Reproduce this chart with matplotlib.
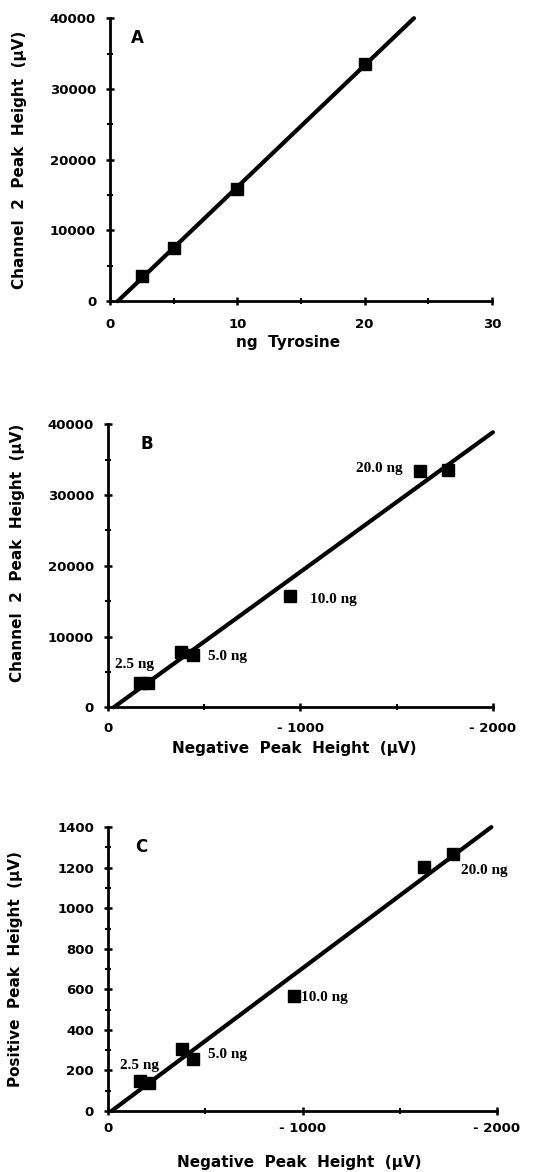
import numpy as np
import matplotlib
matplotlib.use("Agg")
import matplotlib.pyplot as plt
from matplotlib.ticker import MultipleLocator, FixedLocator

# Panel A: ng tyrosine vs channel 2 peak height
ng_tyr = [2.5, 5.0, 10.0, 20.0]
ch2_a = [3500, 7500, 15800, 33500]

# Panel B / C: negative peak height vs channel 2 / positive peak height
neg_peak = [165, 210, 380, 440, 945, 1620, 1765]
ch2_b = [3500, 3500, 7800, 7400, 15800, 33400, 33500]
neg_peak_c = [165, 210, 380, 435, 955, 1625, 1775]
pos_peak = [150, 140, 305, 255, 565, 1205, 1265]

labels = ["2.5 ng", "5.0 ng", "10.0 ng", "20.0 ng"]
lab_pos_b = [(35, 6100), (520, 7200), (1050, 15200), (1290, 33700)]
lab_pos_c = [(60, 225), (515, 280), (990, 560), (1815, 1185)]

plt.rcParams['font.family'] = ['DejaVu Sans']
plt.rcParams['font.weight'] = 'bold'

fig = plt.figure(figsize=(5.46, 11.72), dpi=100)

lab_font = dict(fontsize=11, fontweight='bold')
ann_font = dict(fontsize=11, fontweight='bold', family='Liberation Serif')


def style_axes(ax, xpad):
    for s in ['top', 'right']:
        ax.spines[s].set_visible(False)
    for s in ['left', 'bottom']:
        ax.spines[s].set_linewidth(2)
    ax.tick_params(which='major', direction='inout', length=6, width=1.8,
                   labelsize=9.5)
    ax.tick_params(axis='y', which='major', pad=7)
    ax.tick_params(axis='x', which='major', pad=xpad)
    ax.tick_params(which='minor', direction='inout', length=4, width=1.5)
    for t in ax.get_xticklabels() + ax.get_yticklabels():
        t.set_fontweight('bold')


def place_labels(ax, xlab, ylab, xc, yc):
    ax.set_xlabel(xlab, **lab_font)
    ax.set_ylabel(ylab, **lab_font)
    ax.xaxis.set_label_coords(*xc)
    ax.yaxis.set_label_coords(*yc)
    for lab in (ax.xaxis.label, ax.yaxis.label):
        lab.set_ha('center')
        lab.set_va('center')


def fit_line(ax, x, y, xmax, ymax):
    k, b = np.polyfit(x, y, 1)
    x0 = max(-b / k, 0)
    x1 = min(xmax, (ymax - b) / k)
    xs = np.array([x0, x1])
    ax.plot(xs, k * xs + b, color='black', lw=3, solid_capstyle='round',
            clip_on=False, zorder=2)


# ---- A ----
axA = fig.add_axes([0.2015, 0.743, 0.6996, 0.2415])
fit_line(axA, ng_tyr, ch2_a, 30, 40000)
axA.plot(ng_tyr, ch2_a, 's', color='black', ms=8, zorder=3)
axA.set_xlim(0, 30)
axA.set_ylim(0, 40000)
axA.xaxis.set_major_locator(MultipleLocator(10))
axA.xaxis.set_minor_locator(MultipleLocator(5))
axA.yaxis.set_major_locator(MultipleLocator(10000))
axA.yaxis.set_minor_locator(MultipleLocator(5000))
style_axes(axA, 9)
place_labels(axA, "ng  Tyrosine", "Channel  2  Peak  Height  (\u00b5V)",
             (0.466, -0.145), (-0.236, 0.5))
axA.text(0.055, 0.93, "A", transform=axA.transAxes, fontsize=12,
         fontweight='bold', va='center')

# ---- B ----
axB = fig.add_axes([0.1978, 0.3965, 0.705, 0.2415])
fit_line(axB, neg_peak, ch2_b, 2000, 40000)
axB.plot(neg_peak, ch2_b, 's', color='black', ms=8, zorder=3)
axB.set_xlim(0, 2000)
axB.set_ylim(0, 40000)
axB.xaxis.set_major_locator(FixedLocator([0, 1000, 2000]))
axB.xaxis.set_minor_locator(MultipleLocator(500))
axB.set_xticklabels(["0", "- 1000", "- 2000"])
axB.yaxis.set_major_locator(MultipleLocator(10000))
axB.yaxis.set_minor_locator(MultipleLocator(5000))
style_axes(axB, 7.5)
place_labels(axB, "Negative  Peak  Height  (\u00b5V)",
             "Channel  2  Peak  Height  (\u00b5V)",
             (0.483, -0.145), (-0.234, 0.546))
axB.text(0.085, 0.93, "B", transform=axB.transAxes, fontsize=12,
         fontweight='bold', va='center')
for lab, (lx, ly) in zip(labels, lab_pos_b):
    axB.text(lx, ly, lab, ha='left', va='center', **ann_font)

# ---- C ----
axC = fig.add_axes([0.1978, 0.052, 0.7125, 0.2423])
fit_line(axC, neg_peak_c, pos_peak, 2000, 1400)
axC.plot(neg_peak_c, pos_peak, 's', color='black', ms=8, zorder=3)
axC.set_xlim(0, 2000)
axC.set_ylim(0, 1400)
axC.xaxis.set_major_locator(FixedLocator([0, 1000, 2000]))
axC.xaxis.set_minor_locator(MultipleLocator(500))
axC.set_xticklabels(["0", "- 1000", "- 2000"])
axC.yaxis.set_major_locator(MultipleLocator(200))
axC.yaxis.set_minor_locator(MultipleLocator(100))
style_axes(axC, 5)
place_labels(axC, "Negative  Peak  Height  (\u00b5V)",
             "Positive  Peak  Height  (\u00b5V)",
             (0.491, -0.18), (-0.237, 0.5))
axC.text(0.07, 0.93, "C", transform=axC.transAxes, fontsize=12,
         fontweight='bold', va='center')
for lab, (lx, ly) in zip(labels, lab_pos_c):
    axC.text(lx, ly, lab, ha='left', va='center', **ann_font)

fig.savefig("out.png", dpi=100)
